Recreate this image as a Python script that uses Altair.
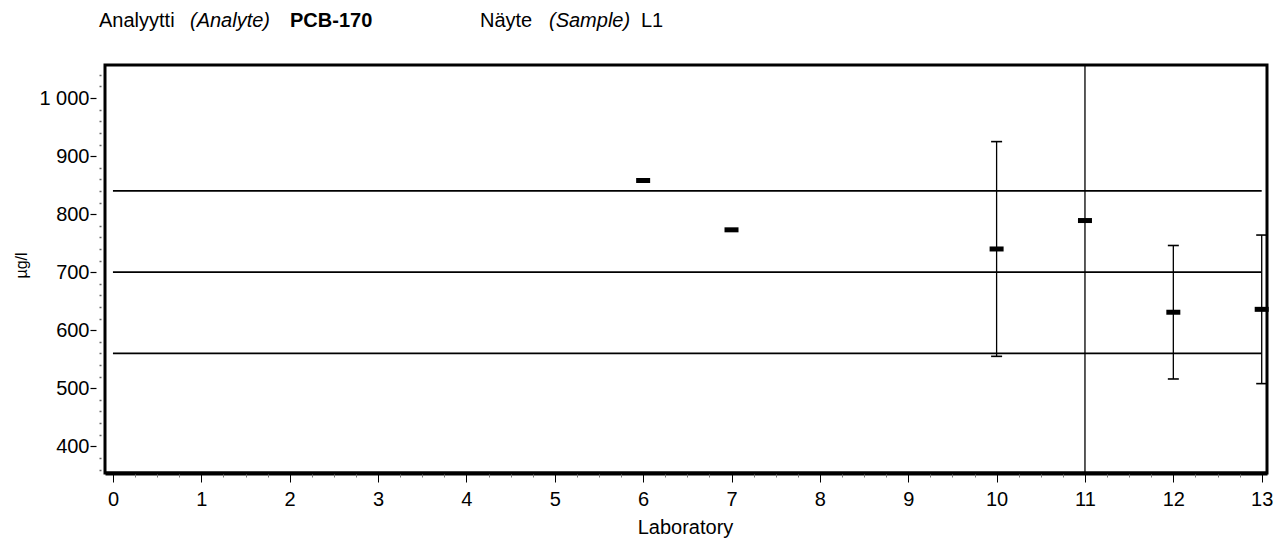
import altair as alt
import pandas as pd

# Laboratory results for PCB-170, sample L1 (µg/l)
labs = [6, 7, 10, 11, 12, 13]
results = [858, 773, 740, 789, 631, 636]
uncertainty = [0, 0, 185, 700, 115, 128]

# Assigned value and the +/-20 % acceptance limits
limit_levels = [840, 700, 560]

x_ticks = list(range(0, 14))
y_ticks = [400, 500, 600, 700, 800, 900, 1000]
x_minor = [i / 4 for i in range(0, 53) if i % 4 != 0]
y_minor = [v for v in range(360, 1060, 20) if v % 100 != 0]

W, H = 1162, 408
FONT = "Liberation Sans"

df = pd.DataFrame({"lab": labs, "result": results, "u": uncertainty})
df["low"] = df["result"] - df["u"]
df["high"] = df["result"] + df["u"]
err = df[df["u"] > 0]

limits = pd.DataFrame({"level": limit_levels, "x0": [0] * 3, "x1": [13] * 3})

xscale = alt.Scale(domain=[-0.09, 13.06], nice=False, zero=False)
yscale = alt.Scale(domain=[354, 1057], nice=False, zero=False)

x_axis = alt.Axis(
    values=x_ticks, title="Laboratory", grid=False, tickSize=9, tickColor="black",
    domainColor="black", domainWidth=4, labelFont=FONT, labelFontSize=20,
    labelColor="black", labelPadding=7, titleFont=FONT, titleFontSize=20,
    titleFontWeight="normal", titleColor="black", titleX=W / 2 - 1, titleY=54,
    titleBaseline="middle",
)
y_axis = alt.Axis(
    values=y_ticks, title="µg/l", grid=False, offset=9, domain=False,
    tickSize=6, tickColor="black", tickWidth=1.2, labelFont=FONT,
    labelFontSize=20, labelColor="black", labelPadding=1,
    labelExpr="replace(format(datum.value, ','), ',', ' ')",
    titleFont=FONT, titleFontSize=16, titleFontWeight="normal", titleColor="black",
    titleX=-75, titleY=200, titleBaseline="middle", titleAngle=-90,
)

lines = alt.Chart(limits).mark_rule(color="black", strokeWidth=1.8).encode(
    x=alt.X("x0:Q", scale=xscale, axis=x_axis),
    x2="x1:Q",
    y=alt.Y("level:Q", scale=yscale, axis=y_axis),
)

bars = alt.Chart(err).mark_rule(color="black", strokeWidth=1.3, clip=True).encode(
    x=alt.X("lab:Q", scale=xscale, axis=None),
    y=alt.Y("low:Q", scale=yscale, axis=None),
    y2="high:Q",
)
caps_low = alt.Chart(err).mark_tick(
    color="black", orient="horizontal", size=11, thickness=1.6, opacity=1, clip=True
).encode(
    x=alt.X("lab:Q", scale=xscale, axis=None),
    y=alt.Y("low:Q", scale=yscale, axis=None),
)
caps_high = alt.Chart(err).mark_tick(
    color="black", orient="horizontal", size=11, thickness=1.6, opacity=1, clip=True
).encode(
    x=alt.X("lab:Q", scale=xscale, axis=None),
    y=alt.Y("high:Q", scale=yscale, axis=None),
)
points = alt.Chart(df).mark_tick(
    color="black", orient="horizontal", size=14, thickness=5, opacity=1
).encode(
    x=alt.X("lab:Q", scale=xscale, axis=None),
    y=alt.Y("result:Q", scale=yscale, axis=None),
)

# Minor tick marks on both axes
minor = alt.Chart(pd.DataFrame({"lab": [0], "result": [700]})).mark_point(opacity=0).encode(
    x=alt.X("lab:Q", scale=xscale, axis=alt.Axis(
        orient="bottom", values=x_minor, labels=False, title=None, domain=False,
        grid=False, tickSize=4, tickColor="#777", tickWidth=1)),
    y=alt.Y("result:Q", scale=yscale, axis=alt.Axis(
        orient="left", values=y_minor, labels=False, title=None, domain=False,
        offset=4, grid=False, tickSize=2, tickColor="#666", tickWidth=1.5)),
)

# Plot frame
frame = alt.Chart(pd.DataFrame({"k": [0]})).mark_rect(
    fill=None, stroke="black", strokeWidth=3
).encode(x=alt.value(0), x2=alt.value(W), y=alt.value(0), y2=alt.value(H))

# Header line above the plot
one = pd.DataFrame({"k": [0]})


def header(text, x, style="normal", weight="normal"):
    return alt.Chart(one).mark_text(
        text=text, align="left", baseline="alphabetic", font=FONT, fontSize=20,
        fontStyle=style, fontWeight=weight, color="black",
    ).encode(x=alt.value(x), y=alt.value(-38))


headers = [
    header("Analyytti", -6),
    header("(Analyte)", 85, style="italic"),
    header("PCB-170", 185, weight="bold"),
    header("Näyte", 375),
    header("(Sample)", 444, style="italic"),
    header("L1", 536),
]

chart = alt.layer(
    lines, bars, caps_low, caps_high, points, minor, frame, *headers
).resolve_axis(
    x="independent", y="independent"
).properties(
    width=W, height=H,
    autosize=alt.AutoSizeParams(type="none"),
    padding={"left": 105, "top": 65, "right": 21, "bottom": 70},
).configure_view(stroke=None).configure(background="white")

chart.save("out.html", embed_options={"renderer": "svg", "actions": False})
